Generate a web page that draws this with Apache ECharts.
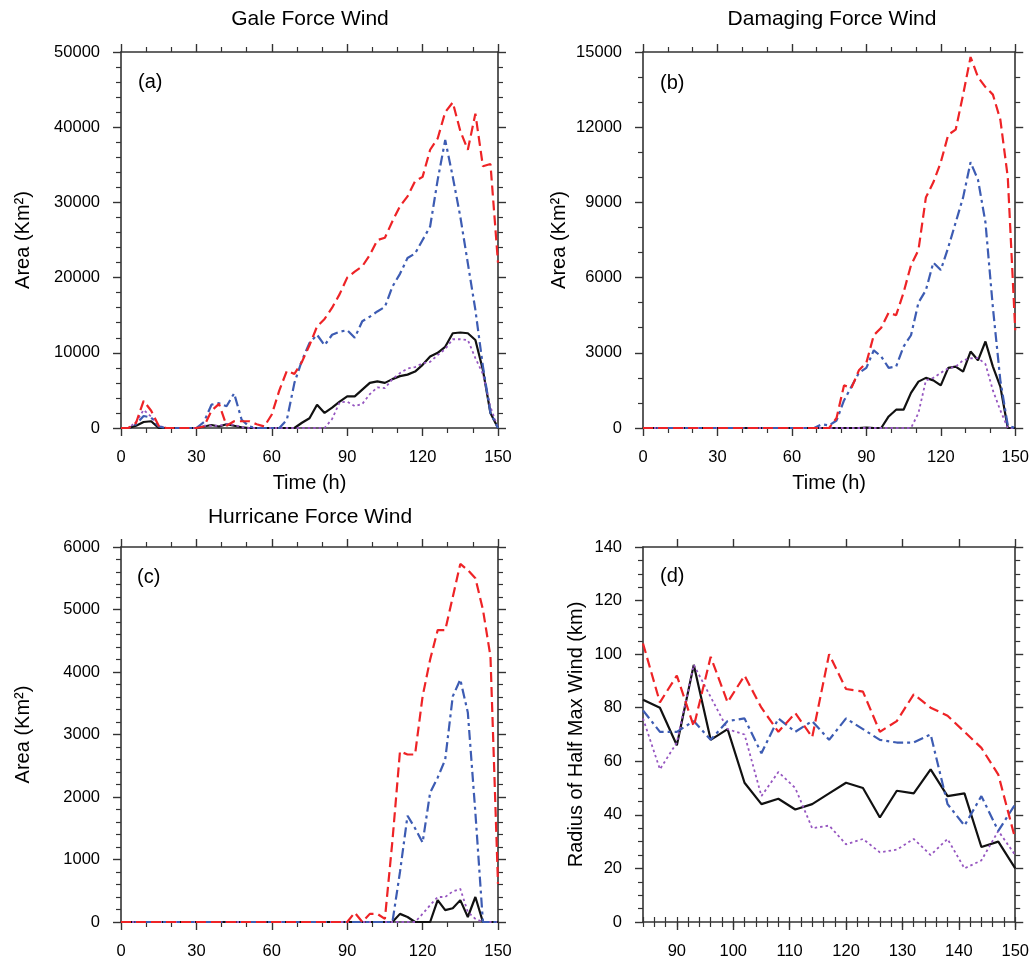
<!DOCTYPE html>
<html>
<head>
<meta charset="utf-8">
<script src="https://cdn.jsdelivr.net/npm/echarts@6/dist/echarts.min.js"></script>
<style>
html,body{margin:0;padding:0;background:#fff;}
#chart{width:1032px;height:960px;}
</style>
</head>
<body>
<div id="chart"></div>
<script>
// ---------- DATA ----------
const hours = [0,3,6,9,12,15,18,21,24,27,30,33,36,39,42,45,48,51,54,57,60,63,66,69,72,75,78,81,84,87,90,93,96,99,102,105,108,111,114,117,120,123,126,129,132,135,138,141,144,147,150];
const hoursD = [84,87,90,93,96,99,102,105,108,111,114,117,120,123,126,129,132,135,138,141,144,147,150];

// (a) Gale Force Wind area (Km^2)
const galeRed    = [0,0,700,3600,2300,300,0,0,0,0, 0,200,2300,3200,300,900,900,900,500,200, 1800,5000,7600,7200,8800,11000,13500,14500,16000,17800, 20000,20800,21500,23000,25000,25300,27500,29500,30800,32800, 33400,37000,38500,42000,43300,39500,37000,41800,34800,35100, 22000];
const galeBlue   = [0,0,500,1600,1400,200,0,0,0,0, 0,800,3100,3300,2900,4600,1100,200,0,0, 0,0,1100,6000,9000,11300,12400,11000,12400,12800, 13000,12000,14200,14800,15500,16100,18800,20500,22600,23200, 25000,26800,33000,38300,33400,28100,21900,15700,8200,2000, 0];
const galeBlack  = [0,0,300,800,900,0,0,0,0,0, 0,200,400,200,500,300,100,0,0,0, 0,0,0,0,700,1300,3100,2000,2700,3500, 4200,4200,5100,6000,6200,6000,6500,6900,7100,7500, 8400,9500,10000,10800,12600,12700,12600,11700,7700,2000, 0];
const galePurple = [0,0,800,2400,1500,300,0,0,0,0, 0,300,300,300,500,400,100,0,0,0, 0,0,0,0,0,0,0,0,1200,3400, 3500,2900,3200,4500,5400,5300,6500,7300,7900,8100, 8600,8800,9700,10500,11800,11800,11700,9300,7200,2800, 0];

// (b) Damaging Force Wind
const damRed    = [0,0,0,0,0,0,0,0,0,0, 0,0,0,0,0,0,0,0,0,0, 0,0,0,0,0,0,400,1700,1600,2300, 2600,3700,4000,4600,4500,5400,6500,7100,9200,9800, 10600,11700,11900,13300,14800,14000,13600,13300,12300,10000, 3900];
const damBlue   = [0,0,0,0,0,0,0,0,0,0, 0,0,0,0,0,0,0,0,0,0, 0,0,0,0,150,100,300,1100,1650,2200, 2400,3100,2850,2400,2450,3250,3700,5000,5500,6600, 6300,7200,8200,9200,10600,9900,8200,4800,1900,100, 0];
const damBlack  = [0,0,0,0,0,0,0,0,0,0, 0,0,0,0,0,0,0,0,0,0, 0,0,0,0,0,0,0,0,0,0, 20,0,0,460,730,730,1400,1850,2000,1900, 1700,2400,2450,2250,3050,2700,3450,2450,1650,0, 0];
const damPurple = [0,0,0,0,0,0,0,0,0,0, 0,0,0,0,0,0,0,0,0,0, 0,0,0,0,0,0,0,0,0,0, 0,0,0,0,0,0,0,600,1900,2000, 2200,2380,2450,2700,2780,2790,2550,1500,700,0, 0];

// (c) Hurricane Force Wind
const hurRed    = [0,0,0,0,0,0,0,0,0,0, 0,0,0,0,0,0,0,0,0,0, 0,0,0,0,0,0,0,0,0,0, 0,150,0,130,130,50,1300,2730,2680,2680, 3610,4200,4670,4670,5200,5730,5630,5500,5000,4250, 610];
const hurBlue   = [0,0,0,0,0,0,0,0,0,0, 0,0,0,0,0,0,0,0,0,0, 0,0,0,0,0,0,0,0,0,0, 0,0,0,0,0,0,0,800,1700,1500, 1270,2070,2310,2600,3610,3880,3350,1750,0,0, 0];
const hurBlack  = [0,0,0,0,0,0,0,0,0,0, 0,0,0,0,0,0,0,0,0,0, 0,0,0,0,0,0,0,0,0,0, 0,0,0,0,0,0,0,130,80,0, 0,0,350,190,220,350,80,400,0,0, 0];
const hurPurple = [0,0,0,0,0,0,0,0,0,0, 0,0,0,0,0,0,0,0,0,0, 0,0,0,0,0,0,0,0,0,0, 0,0,0,0,0,0,0,0,0,0, 130,270,400,400,490,530,160,50,0,0, 0];

// (d) Radius of half max wind (km)
const radRed    = [104,82,92,73,99,82,92,80,71,78,69,100,87,86,71,75,85,80,77,71,65,55,31];
const radBlue   = [79,71,71,75,68,75,76,63,76,71,75,68,76,72,68,67,67,70,44,36,47,34,44];
const radBlack  = [83,80,66,96,68,72,52,44,46,42,44,48,52,50,39,49,48,57,47,48,28,30,20];
const radPurple = [76,57,67,96,84,72,70,47,56,50,35,36,29,31,26,27,31,25,31,20,23,34,25];

// tick labels
const ticksD = [90,100,110,120,130,140,150];
const minorTicksD = [84,86,88,90,92,94,96,98,100,102,104,106,108,110,112,114,116,118,120,122,124,126,128,130,132,134,136,138,140,142,144,146,148,150];

const titles = ['Gale Force Wind','Damaging Force Wind','Hurricane Force Wind'];
const panelLabels = ['(a)','(b)','(c)','(d)'];

// ---------- STYLE ----------
const FONT = 'Liberation Sans, Arial, Helvetica, sans-serif';
const AX = '#333';
const styles = {
  red:    {color:'#ee2326', width:2.2, type:[10,5]},
  blue:   {color:'#3d5cb3', width:2.2, type:[10,4,3,4]},
  black:  {color:'#111111', width:2.2, type:'solid'},
  purple: {color:'#9656c0', width:1.8, type:[2.5,3]}
};

const grids = [
  {left:121, top:52,  width:377, height:376},
  {left:643, top:52,  width:378, height:376},
  {left:121, top:547, width:377, height:376},
  {left:643, top:547, width:377, height:377}
];

const xAxes = [], yAxes = [], series = [];

function pair(xs, ys){ return xs.map((x,i)=>[x, ys[i]]); }
const plain = v => String(v);

function addPanel(gi, cfg){
  const axisLine = {show:true, onZero:false, lineStyle:{color:AX, width:1.6}};
  const tickBase = {show:true, inside:false, length:8, lineStyle:{color:AX, width:1.4}};
  const minorBase = {show:true, length:5, lineStyle:{color:AX, width:1.2}};
  const lab = {show:true, color:'#000', fontSize:16.5, fontFamily:FONT, margin:21, formatter:plain};
  const xi0 = xAxes.length;
  const xb = {type:'value', gridIndex:gi, position:'bottom', min:cfg.xmin, max:cfg.xmax,
    axisLine, splitLine:{show:false},
    axisTick:Object.assign({}, tickBase), axisLabel:Object.assign({}, lab),
    name:cfg.xname||'', nameLocation:'middle', nameGap:45,
    nameTextStyle:{fontSize:20, fontFamily:FONT, color:'#000'}};
  if (cfg.xCustom){
    xb.axisTick.customValues = cfg.xCustom;
    xb.axisLabel.customValues = cfg.xCustom;
    xb.minorTick = {show:false};
  } else {
    xb.interval = cfg.xint;
    xb.minorTick = Object.assign({splitNumber:cfg.xminor}, minorBase);
  }
  xAxes.push(xb);
  const xt = {type:'value', gridIndex:gi, position:'top', min:cfg.xmin, max:cfg.xmax,
    axisLine, splitLine:{show:false}, axisLabel:{show:false},
    axisTick:Object.assign({}, tickBase)};
  if (cfg.xCustom){ xt.axisTick.customValues = cfg.xCustom; xt.minorTick={show:false}; }
  else { xt.interval = cfg.xint; xt.minorTick = Object.assign({splitNumber:cfg.xminor}, minorBase); }
  xAxes.push(xt);
  if (cfg.xMinorCustom){
    ['bottom','top'].forEach(p=>{
      xAxes.push({type:'value', gridIndex:gi, position:p, min:cfg.xmin, max:cfg.xmax,
        axisLine:{show:false}, splitLine:{show:false}, axisLabel:{show:false},
        axisTick:Object.assign({}, minorBase, {customValues:cfg.xMinorCustom})});
    });
  }
  const yi0 = yAxes.length;
  yAxes.push({type:'value', gridIndex:gi, position:'left', min:cfg.ymin, max:cfg.ymax, interval:cfg.yint,
    axisLine, splitLine:{show:false}, axisTick:tickBase,
    minorTick:Object.assign({splitNumber:cfg.yminor}, minorBase),
    axisLabel:lab,
    name:cfg.yname, nameLocation:'middle', nameGap:cfg.ynameGap, nameRotate:90,
    nameTextStyle:{fontSize:20, fontFamily:FONT, color:'#000'}});
  yAxes.push({type:'value', gridIndex:gi, position:'right', min:cfg.ymin, max:cfg.ymax, interval:cfg.yint,
    axisLine, splitLine:{show:false}, axisTick:tickBase,
    minorTick:Object.assign({splitNumber:cfg.yminor}, minorBase),
    axisLabel:{show:false}});
  const order = [['black',cfg.black],['purple',cfg.purple],['blue',cfg.blue],['red',cfg.red]];
  order.forEach(([k, ys], n)=>{
    series.push({type:'line', xAxisIndex:xi0, yAxisIndex:yi0, data:pair(cfg.xs, ys),
      showSymbol:false, symbol:'none', lineStyle:Object.assign({}, styles[k]), z:2+n, silent:true, clip:true});
  });
}

addPanel(0, {xs:hours, xmin:0, xmax:150, xint:30, xminor:3, ymin:0, ymax:50000, yint:10000, yminor:5,
  xname:'Time (h)', yname:'Area (Km²)', ynameGap:88,
  red:galeRed, blue:galeBlue, black:galeBlack, purple:galePurple});
addPanel(1, {xs:hours, xmin:0, xmax:150, xint:30, xminor:3, ymin:0, ymax:15000, yint:3000, yminor:3,
  xname:'Time (h)', yname:'Area (Km²)', ynameGap:74,
  red:damRed, blue:damBlue, black:damBlack, purple:damPurple});
addPanel(2, {xs:hours, xmin:0, xmax:150, xint:30, xminor:3, ymin:0, ymax:6000, yint:1000, yminor:5,
  yname:'Area (Km²)', ynameGap:88,
  red:hurRed, blue:hurBlue, black:hurBlack, purple:hurPurple});
addPanel(3, {xs:hoursD, xmin:84, xmax:150, xCustom:ticksD, xMinorCustom:minorTicksD, ymin:0, ymax:140, yint:20, yminor:4,
  yname:'Radius of Half Max Wind (km)', ynameGap:57,
  red:radRed, blue:radBlue, black:radBlack, purple:radPurple});

const graphics = [];
const titlePos = [[310,19],[832,19],[310,517]];
titles.forEach((t,i)=>graphics.push({type:'text', x:titlePos[i][0], y:titlePos[i][1],
  style:{text:t, font:'21px '+FONT, fill:'#000', textAlign:'center', textVerticalAlign:'middle'}}));
const labPos = [[138,82],[660,83],[137,577],[660,576]];
panelLabels.forEach((t,i)=>graphics.push({type:'text', x:labPos[i][0], y:labPos[i][1],
  style:{text:t, font:'20px '+FONT, fill:'#000', textAlign:'left', textVerticalAlign:'middle'}}));

const chart = echarts.init(document.getElementById('chart'), null, {renderer:'canvas'});
chart.setOption({
  animation:false,
  backgroundColor:'#fff',
  grid:grids,
  xAxis:xAxes,
  yAxis:yAxes,
  series:series,
  graphic:graphics
});
</script>
</body>
</html>
